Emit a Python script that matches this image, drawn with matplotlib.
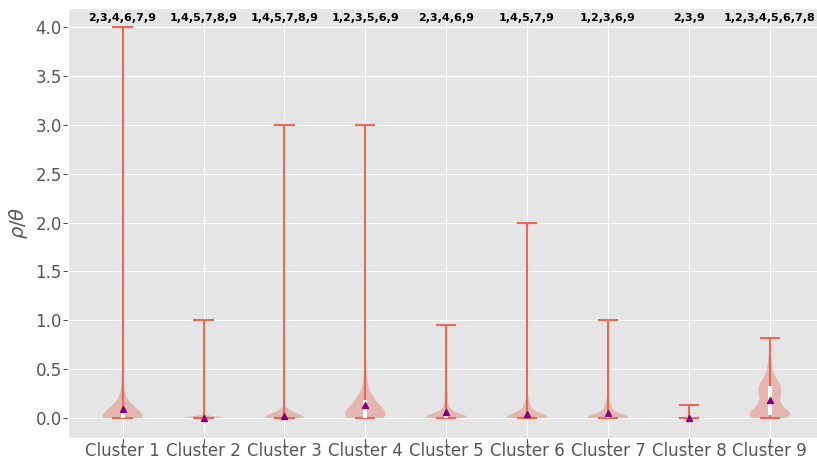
import numpy as np
import matplotlib.pyplot as plt

plt.style.use("ggplot")

# ratio values per cluster, stored as distinct values and how often they occur
clusters = ["Cluster 1", "Cluster 2", "Cluster 3", "Cluster 4", "Cluster 5",
            "Cluster 6", "Cluster 7", "Cluster 8", "Cluster 9"]

c1_vals = [0, 0.01, 0.05, 0.1, 0.2, 0.3, 0.5, 0.8, 1.2, 2.0, 3.0, 4.0]
c1_cnts = [300, 60, 30, 25, 20, 15, 15, 8, 5, 3, 1, 1]

c2_vals = [0, 0.005, 0.02, 1.0]
c2_cnts = [400, 20, 5, 1]

c3_vals = [0, 0.01, 0.03, 0.06, 0.1, 0.15, 3.0]
c3_cnts = [350, 40, 30, 20, 10, 5, 1]

c4_vals = [0, 0.03, 0.07, 0.12, 0.18, 0.25, 0.35, 0.5, 0.7, 1.0, 1.5, 2.0, 3.0]
c4_cnts = [120, 80, 60, 40, 50, 25, 15, 15, 5, 3, 2, 2, 1]

c5_vals = [0, 0.015, 0.03, 0.06, 0.1, 0.15, 0.2, 0.25, 0.4, 0.6, 0.95]
c5_cnts = [200, 60, 50, 40, 25, 15, 15, 20, 10, 5, 1]

c6_vals = [0, 0.015, 0.03, 0.06, 0.1, 0.15, 0.22, 0.35, 0.6, 1.0, 2.0]
c6_cnts = [220, 60, 40, 35, 25, 25, 12, 4, 2, 1, 1]

c7_vals = [0, 0.015, 0.03, 0.06, 0.1, 0.15, 0.22, 0.35, 0.6, 1.0]
c7_cnts = [170, 60, 45, 40, 35, 25, 15, 8, 2, 1]

c8_vals = [0, 0.005, 0.02, 0.05, 0.13]
c8_cnts = [300, 60, 30, 10, 1]

c9_vals = [0, 0.03, 0.07, 0.12, 0.17, 0.22, 0.28, 0.33, 0.4, 0.5, 0.6, 0.7, 0.82]
c9_cnts = [45, 50, 35, 25, 22, 24, 30, 32, 24, 12, 6, 3, 1]

# clusters that differ significantly from each one
sig_labels = ["2,3,4,6,7,9", "1,4,5,7,8,9", "1,4,5,7,8,9", "1,2,3,5,6,9",
              "2,3,4,6,9", "1,4,5,7,9", "1,2,3,6,9", "2,3,9", "1,2,3,4,5,6,7,8"]

pairs = [(c1_vals, c1_cnts), (c2_vals, c2_cnts), (c3_vals, c3_cnts),
         (c4_vals, c4_cnts), (c5_vals, c5_cnts), (c6_vals, c6_cnts),
         (c7_vals, c7_cnts), (c8_vals, c8_cnts), (c9_vals, c9_cnts)]
data = [np.repeat(v, c) for v, c in pairs]
pos = np.arange(1, len(clusters) + 1)

line_col = "#E66A55"

fig = plt.figure(figsize=(8.17, 4.59), dpi=100)
ax = fig.add_axes([68 / 817, 21.5 / 459, 756.4 / 817, 430 / 459])

parts = ax.violinplot(data, positions=pos, showextrema=True)
for key in ("cbars", "cmins", "cmaxes"):
    parts[key].set_color(line_col)

ax.boxplot(data, positions=pos, widths=0.05, patch_artist=True,
           showfliers=False, showmeans=True, manage_ticks=False,
           boxprops=dict(facecolor="white", edgecolor="white", linewidth=0, zorder=3),
           medianprops=dict(visible=False),
           whiskerprops=dict(visible=False),
           capprops=dict(visible=False),
           meanprops=dict(marker="^", markerfacecolor="purple",
                          markeredgecolor="purple", markersize=5, zorder=4))

for x, lab in zip(pos, sig_labels):
    ax.text(x, 4.06, lab, ha="center", va="baseline", fontsize=8,
            fontweight="bold", color="black")

ax.set_xlim(0.325, 9.675)
ax.set_ylim(-0.2, 4.2)
ax.set_xticks(pos)
ax.set_xticklabels(clusters, fontsize=12)
ax.tick_params(axis="x", pad=0)
ax.tick_params(axis="y", labelsize=12, pad=1)
ax.set_ylabel(r"$\rho/\theta$", fontsize=14, labelpad=4)

fig.savefig("out.png", dpi=100)
